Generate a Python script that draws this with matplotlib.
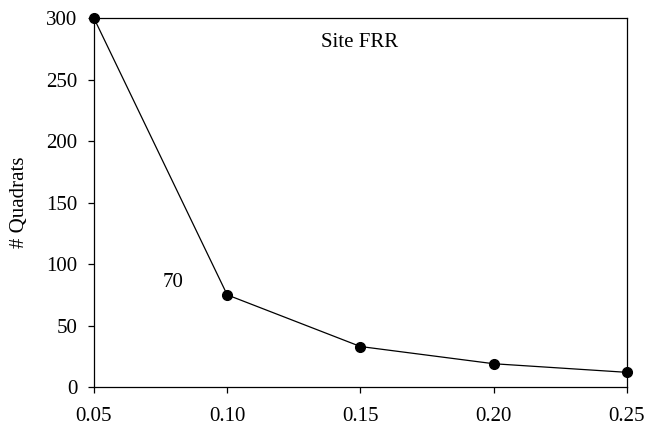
import matplotlib.pyplot as plt

# grid size vs number of quadrats
grid_size   =   [0.05, 0.10, 0.15, 0.20, 0.25]
n_quadrats  =   [300, 75, 33, 19, 12]
xtick_labels =  ['0.05', '0.10', '0.15', '0.20', '0.25']
yticks      =   [0, 50, 100, 150, 200, 250, 300]

plt.rcParams['font.family'] = ['Liberation Serif', 'DejaVu Serif']

fig = plt.figure(figsize=(6.48, 4.33), dpi=100)
ax = fig.add_axes([0.145, 0.106, 0.8225, 0.852])

ax.plot(grid_size, n_quadrats, color='black', linewidth=0.9, marker='o',
        markersize=7, clip_on=False, zorder=3)

ax.set_xlim(0.05, 0.25)
ax.set_ylim(0, 300)
ax.set_xticks(grid_size)
ax.set_xticklabels(xtick_labels)
ax.set_yticks(yticks)
ax.tick_params(direction='out', length=4, width=0.9, labelsize=15)
ax.tick_params(axis='y', pad=8)
ax.tick_params(axis='x', pad=10)
for s in ax.spines.values():
    s.set_linewidth(0.9)

ax.set_ylabel('# Quadrats', fontsize=15, labelpad=12)
ax.text(0.0796, 85, '70', fontsize=15, ha='center', va='center')
ax.text(0.1498, 280, 'Site FRR', fontsize=15, ha='center', va='center')

fig.savefig('out.png', dpi=100)
